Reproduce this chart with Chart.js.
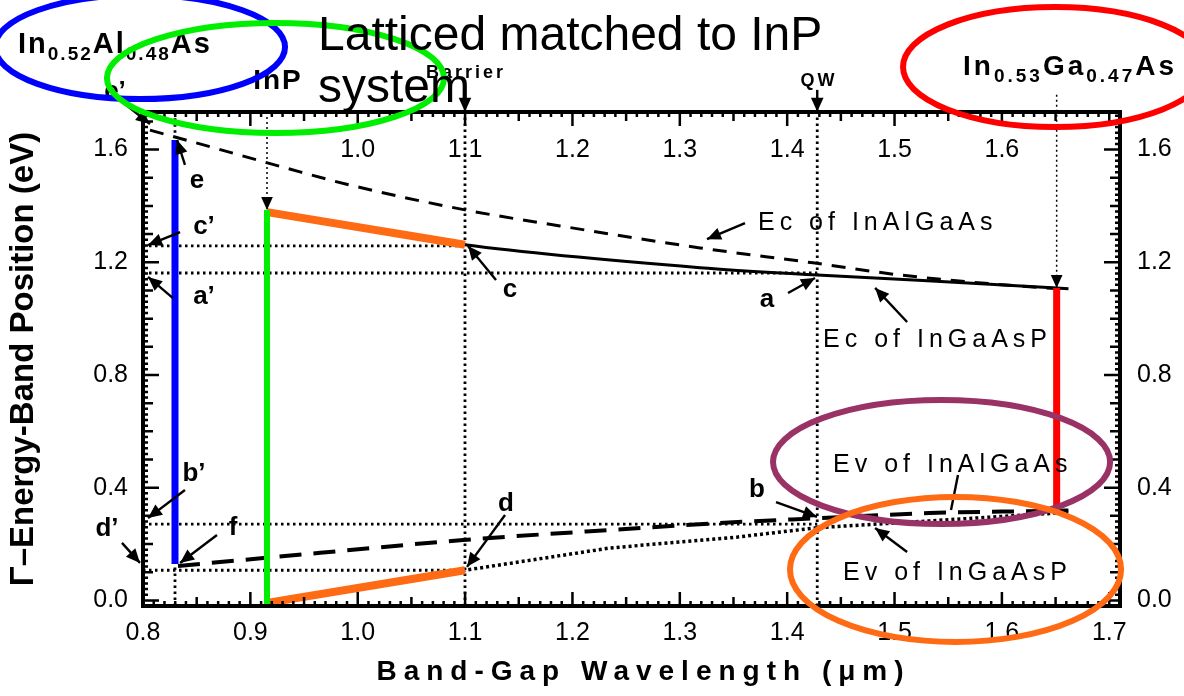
<!DOCTYPE html>
<html>
<head>
<meta charset="utf-8">
<title>Band positions</title>
<script src="https://cdn.jsdelivr.net/npm/chart.js@4.4.1/dist/chart.umd.min.js"></script>
<style>
  html, body { margin: 0; padding: 0; background: #fff; }
  #wrap { width: 1184px; height: 696px; }
</style>
</head>
<body>
<div id="wrap"><canvas id="bandChart" width="1184" height="696"></canvas></div>
<script>
var FONT = '"Liberation Sans", Arial, Helvetica, sans-serif';

// axes
var xRange = [0.8, 1.71];
var yRange = [-0.0199, 1.7334];
var xTicks = [0.8, 0.9, 1.0, 1.1, 1.2, 1.3, 1.4, 1.5, 1.6, 1.7];
var xTopTicks = [1.0, 1.1, 1.2, 1.3, 1.4, 1.5, 1.6];
var yTicks = [0.0, 0.4, 0.8, 1.2, 1.6];

// band edges (wavelength in um, energy in eV)
var ecInAlGaAsX = [0.8065, 0.8466, 0.9462, 0.9928, 1.0999, 1.1884, 1.3188, 1.4241, 1.5051, 1.629, 1.6607];
var ecInAlGaAsY = [1.669, 1.627, 1.521, 1.474, 1.386, 1.329, 1.251, 1.198, 1.155, 1.112, 1.105];
var ecInGaAsPX = [0.9155, 1.0999, 1.3188, 1.428, 1.651, 1.662];
var ecInGaAsPY = [1.378, 1.262, 1.181, 1.155, 1.109, 1.106];
var evInAlGaAsX = [0.8326, 0.9146, 1.098, 1.235, 1.354, 1.4315, 1.532, 1.6513, 1.662];
var evInAlGaAsY = [0.122, 0.151, 0.214, 0.250, 0.278, 0.292, 0.310, 0.318, 0.319];
var evInGaAsPX = [0.9155, 1.0999, 1.235, 1.354, 1.428, 1.532, 1.6513, 1.662];
var evInGaAsPY = [-0.009, 0.107, 0.186, 0.225, 0.258, 0.282, 0.310, 0.312];

// marked levels
var levelC = 1.258, levelA = 1.162, levelB = 0.271, levelD = 0.107;
var xBarrier = 1.0999, xQW = 1.428, xAlAs = 0.8298, xInP = 0.9155, xGaAs = 1.651;

// coloured overlay segments [x1, y1, x2, y2]
var blueLine = [xAlAs, 1.634, xAlAs, 0.1295];
var greenLine = [xInP, 1.386, xInP, -0.016];
var redLine = [xGaAs, 1.109, xGaAs, 0.318];
var orangeTop = [xInP, 1.378, 1.0999, 1.262];
var orangeBottom = [xInP, -0.009, 1.0999, 0.107];

// ellipses [cx, cy, rx, ry, colour] in data units
var ellipses = [
  [0.7972, 1.964, 0.1351, 0.1846, '#0000ff'],
  [0.9234, 1.854, 0.1570, 0.1952, '#00ee00'],
  [1.6495, 1.893, 0.1416, 0.2130, '#ff0000'],
  [1.5438, 0.4912, 0.1570, 0.2200, '#993366'],
  [1.5568, 0.1097, 0.1542, 0.2573, '#ff6a14']
];

var pointLabels = [
  ['e\u2019', 0.7739, 1.805], ['e', 0.8503, 1.488], ['c\u2019', 0.8568, 1.325],
  ['a\u2019', 0.8568, 1.077], ['b\u2019', 0.8475, 0.449], ['d\u2019', 0.7665, 0.253],
  ['f', 0.8838, 0.257], ['c', 1.1418, 1.102], ['a', 1.3812, 1.066],
  ['b', 1.3719, 0.392], ['d', 1.1381, 0.342]
];
var curveLabels = [
  ['Ec of InAlGaAs', 1.3728, 1.315], ['Ec of InGaAsP', 1.4334, 0.900],
  ['Ev of InAlGaAs', 1.4427, 0.455], ['Ev of InGaAsP', 1.452, 0.0725]
];
// pointer arrows, tail -> head
var pointerArrows = [
  [0.7786, 1.776, 0.8065, 1.691], [0.8391, 1.546, 0.8317, 1.634],
  [0.8345, 1.307, 0.8047, 1.261], [0.8279, 1.073, 0.8047, 1.148],
  [0.8391, 0.392, 0.8047, 0.292], [0.7804, 0.204, 0.7972, 0.133],
  [0.8689, 0.232, 0.8345, 0.133], [1.1288, 1.137, 1.1027, 1.258],
  [1.4008, 1.091, 1.4259, 1.144], [1.3896, 0.349, 1.4278, 0.296],
  [1.1372, 0.303, 1.1018, 0.119], [1.3607, 1.339, 1.3253, 1.282],
  [1.5117, 0.988, 1.4819, 1.109], [1.5117, 0.172, 1.4819, 0.257],
  [1.0999, 1.840, 1.0999, 1.734], [1.428, 1.812, 1.428, 1.734]
];
var plainPointers = [[1.5591, 0.445, 1.5526, 0.321]];
var dottedArrows = [[xInP, 1.7334, xInP, 1.386], [xGaAs, 1.795, xGaAs, 1.109]];

var formulaAlAs = ['In', '0.52', 'Al', '0.48', 'As'];
var formulaGaAs = ['In', '0.53', 'Ga', '0.47', 'As'];

function pts(xs, ys) {
  return xs.map(function (x, i) { return { x: x, y: ys[i] }; });
}
function seg(s) {
  return [{ x: s[0], y: s[1] }, { x: s[2], y: s[3] }];
}

var dotted = [2.5, 3.5];
function refLine(data) {
  return { data: data, borderColor: '#000', borderWidth: 2.8, borderDash: dotted, order: 3 };
}
function colourLine(data, colour, width) {
  return { data: data, borderColor: colour, borderWidth: width, order: 0, borderCapStyle: 'butt' };
}

var datasets = [
  colourLine(seg(blueLine), '#0000ff', 7),
  colourLine(seg(greenLine), '#00ee00', 6),
  colourLine(seg(redLine), '#ff0000', 7),
  colourLine(seg(orangeTop), '#ff6a14', 8),
  colourLine(seg(orangeBottom), '#ff6a14', 8),
  { data: pts(ecInAlGaAsX, ecInAlGaAsY), borderColor: '#000', borderWidth: 3, borderDash: [14, 10], cubicInterpolationMode: 'monotone', order: 1 },
  { data: pts(ecInGaAsPX, ecInGaAsPY), borderColor: '#000', borderWidth: 3, cubicInterpolationMode: 'monotone', order: 1 },
  { data: pts(evInAlGaAsX, evInAlGaAsY), borderColor: '#000', borderWidth: 4, borderDash: [22, 12], cubicInterpolationMode: 'monotone', order: 1 },
  { data: pts(evInGaAsPX, evInGaAsPY), borderColor: '#000', borderWidth: 3.5, borderDash: [3, 3], order: 1 },
  refLine([{ x: xRange[0], y: levelC }, { x: xBarrier, y: levelC }]),
  refLine([{ x: xRange[0], y: levelA }, { x: xQW, y: levelA }]),
  refLine([{ x: xRange[0], y: levelB }, { x: xQW, y: levelB }]),
  refLine([{ x: xRange[0], y: levelD }, { x: xBarrier, y: levelD }]),
  refLine([{ x: xBarrier, y: yRange[0] }, { x: xBarrier, y: yRange[1] }]),
  refLine([{ x: xQW, y: yRange[0] }, { x: xQW, y: yRange[1] }]),
  refLine([{ x: xAlAs, y: yRange[0] }, { x: xAlAs, y: 0.122 }]),
  refLine([{ x: xAlAs, y: 1.66 }, { x: xAlAs, y: yRange[1] }])
];
datasets.forEach(function (d) { d.pointRadius = 0; d.fill = false; });

function arrow(ctx, x1, y1, x2, y2, head) {
  ctx.beginPath();
  ctx.moveTo(x1, y1);
  ctx.lineTo(x2, y2);
  ctx.stroke();
  if (!head) return;
  var ang = Math.atan2(y2 - y1, x2 - x1);
  ctx.save();
  ctx.setLineDash([]);
  ctx.beginPath();
  ctx.moveTo(x2, y2);
  ctx.lineTo(x2 - head * Math.cos(ang) + head * 0.45 * Math.sin(ang), y2 - head * Math.sin(ang) - head * 0.45 * Math.cos(ang));
  ctx.lineTo(x2 - head * Math.cos(ang) - head * 0.45 * Math.sin(ang), y2 - head * Math.sin(ang) + head * 0.45 * Math.cos(ang));
  ctx.closePath();
  ctx.fill();
  ctx.restore();
}

function drawFormula(ctx, parts, x, y, big, small, spacing) {
  var cx = x;
  ctx.letterSpacing = spacing + 'px';
  ctx.textAlign = 'left';
  ctx.textBaseline = 'alphabetic';
  parts.forEach(function (p, k) {
    var sub = k % 2 === 1;
    ctx.font = 'bold ' + (sub ? small : big) + 'px ' + FONT;
    ctx.fillText(p, cx, sub ? y + 7 : y);
    cx += ctx.measureText(p).width;
  });
}

var bandPlugin = {
  id: 'bandAnnotations',
  beforeDraw: function (chart) {
    var ctx = chart.ctx;
    ctx.save();
    ctx.fillStyle = '#fff';
    ctx.fillRect(0, 0, chart.width, chart.height);
    ctx.restore();
  },
  afterDraw: function (chart) {
    var ctx = chart.ctx, a = chart.chartArea;
    var sx = chart.scales.x, sy = chart.scales.y;
    function X(v) { return sx.getPixelForValue(v); }
    function Y(v) { return sy.getPixelForValue(v); }
    ctx.save();
    ctx.strokeStyle = '#000';
    ctx.fillStyle = '#000';

    // frame with inward ticks
    ctx.lineWidth = 2.5;
    ctx.beginPath();
    for (var i = 80; i <= 171; i++) {
      var p = X(i / 100);
      var len = i % 10 === 0 ? 14 : (i % 5 === 0 ? 9 : 5);
      ctx.moveTo(p, a.bottom); ctx.lineTo(p, a.bottom - len);
      ctx.moveTo(p, a.top); ctx.lineTo(p, a.top + len);
    }
    for (var j = 0; j <= 86; j++) {
      var q = Y(j * 0.02);
      var ln = j % 20 === 0 ? 16 : (j % 5 === 0 ? 10 : 5);
      ctx.moveTo(a.left, q); ctx.lineTo(a.left + ln, q);
      ctx.moveTo(a.right, q); ctx.lineTo(a.right - ln, q);
    }
    ctx.stroke();
    ctx.lineWidth = 4;
    ctx.strokeRect(a.left, a.top, a.right - a.left, a.bottom - a.top);

    // top tick labels sit inside the frame
    ctx.font = '25px ' + FONT;
    ctx.textAlign = 'center';
    ctx.textBaseline = 'middle';
    xTopTicks.forEach(function (v) { ctx.fillText(v.toFixed(1), X(v), a.top + 38); });

    // x title
    ctx.font = 'bold 28px ' + FONT;
    ctx.letterSpacing = '7px';
    ctx.textBaseline = 'alphabetic';
    ctx.fillText('Band-Gap Wavelength (\u03bcm)', (a.left + a.right) / 2 + 12, 680);

    // point letters
    ctx.letterSpacing = '0px';
    ctx.font = 'bold 26px ' + FONT;
    ctx.textBaseline = 'middle';
    pointLabels.forEach(function (l) { ctx.fillText(l[0], X(l[1]), Y(l[2])); });

    ctx.font = 'bold 28px ' + FONT;
    ctx.letterSpacing = '2px';
    ctx.fillText('InP', X(0.9257), Y(1.843));
    ctx.font = 'bold 18px ' + FONT;
    ctx.letterSpacing = '3px';
    ctx.fillText('Barrier', X(1.1009), Y(1.872));
    ctx.fillText('QW', X(1.4297), Y(1.843));

    // curve names
    ctx.font = '25px ' + FONT;
    ctx.letterSpacing = '5px';
    ctx.textAlign = 'left';
    ctx.textBaseline = 'alphabetic';
    curveLabels.forEach(function (l) { ctx.fillText(l[0], X(l[1]), Y(l[2])); });

    drawFormula(ctx, formulaAlAs, X(0.6836), Y(1.943), 29, 19, 2);
    drawFormula(ctx, formulaGaAs, X(1.5638), Y(1.8647), 28, 19, 3);
    ctx.letterSpacing = '0px';

    // pointers
    ctx.lineWidth = 2.4;
    pointerArrows.forEach(function (s) { arrow(ctx, X(s[0]), Y(s[1]), X(s[2]), Y(s[3]), 14); });
    plainPointers.forEach(function (s) { arrow(ctx, X(s[0]), Y(s[1]), X(s[2]), Y(s[3]), 0); });
    ctx.lineWidth = 1.5;
    ctx.setLineDash([2, 3]);
    dottedArrows.forEach(function (s) { arrow(ctx, X(s[0]), Y(s[1]), X(s[2]), Y(s[3]), 13); });
    ctx.setLineDash([]);

    // ellipses
    ctx.lineWidth = 6;
    ellipses.forEach(function (e) {
      var cx = X(e[0]), cy = Y(e[1]);
      var rx = Math.abs(X(e[0] + e[2]) - cx), ry = Math.abs(Y(e[1] + e[3]) - cy);
      ctx.strokeStyle = e[4];
      ctx.beginPath();
      ctx.ellipse(cx, cy, rx, ry, 0, 0, Math.PI * 2);
      ctx.stroke();
    });

    // caption
    ctx.fillStyle = '#000';
    ctx.font = '48px ' + FONT;
    ctx.textAlign = 'left';
    ctx.fillText('Latticed matched to InP', 318, 50);
    ctx.fillText('system', 318, 102);
    ctx.restore();
  }
};

new Chart(document.getElementById('bandChart').getContext('2d'), {
  type: 'line',
  data: { datasets: datasets },
  plugins: [bandPlugin],
  options: {
    responsive: false,
    devicePixelRatio: 1,
    animation: false,
    layout: { padding: { top: 112, left: 0, right: 0, bottom: 0 } },
    plugins: { legend: { display: false }, tooltip: { enabled: false } },
    scales: {
      x: {
        type: 'linear',
        position: 'bottom',
        min: xRange[0],
        max: xRange[1],
        grid: { display: false, drawTicks: false },
        border: { display: false },
        afterBuildTicks: function (s) { s.ticks = xTicks.map(function (v) { return { value: v }; }); },
        afterFit: function (s) { s.height = 90; },
        ticks: {
          color: '#000',
          padding: 12,
          maxRotation: 0,
          font: { size: 25, family: FONT },
          callback: function (v) { return Number(v).toFixed(1); }
        }
      },
      y: {
        type: 'linear',
        position: 'left',
        min: yRange[0],
        max: yRange[1],
        grid: { display: false, drawTicks: false },
        border: { display: false },
        afterBuildTicks: function (s) { s.ticks = yTicks.map(function (v) { return { value: v }; }); },
        afterFit: function (s) { s.width = 143; },
        title: {
          display: true,
          text: '\u0393\u2013Energy-Band Position (eV)',
          color: '#000',
          padding: { top: 4, bottom: 0 },
          font: { size: 33, weight: 'bold', family: FONT }
        },
        ticks: {
          color: '#000',
          padding: 15,
          font: { size: 25, family: FONT },
          callback: function (v) { return Number(v).toFixed(1); }
        }
      },
      y2: {
        type: 'linear',
        position: 'right',
        min: yRange[0],
        max: yRange[1],
        grid: { display: false, drawTicks: false },
        border: { display: false },
        afterBuildTicks: function (s) { s.ticks = yTicks.map(function (v) { return { value: v }; }); },
        afterFit: function (s) { s.width = 64; },
        ticks: {
          color: '#000',
          padding: 17,
          font: { size: 25, family: FONT },
          callback: function (v) { return Number(v).toFixed(1); }
        }
      }
    }
  }
});
</script>
</body>
</html>
